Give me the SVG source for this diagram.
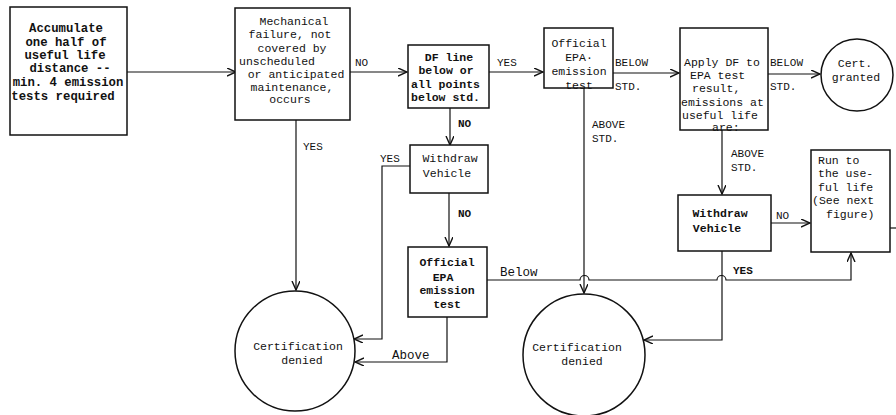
<svg xmlns="http://www.w3.org/2000/svg" width="896" height="415" viewBox="0 0 896 415">
<style>
.b{fill:#fff;stroke:#111;stroke-width:1.5}
.c{fill:none;stroke:#111;stroke-width:1.2}
text{font-family:"Liberation Mono","DejaVu Sans Mono",monospace;fill:#111;font-size:11.5px}
.m{text-anchor:middle}
.bd{font-weight:bold}
.big{font-size:12.3px;font-weight:bold}
.l{font-size:11px}
</style>
<defs>
<marker id="ah" markerWidth="10" markerHeight="10" refX="9" refY="4" orient="auto" markerUnits="userSpaceOnUse">
<path d="M0,0 L9,4 L0,8" fill="none" stroke="#111" stroke-width="1.4"/>
</marker>
</defs>

<g id="connectors">
<path class="c" d="M127,72 H236" marker-end="url(#ah)"/>
<path class="c" d="M350,72 H407" marker-end="url(#ah)"/>
<path class="c" d="M489,72 H543" marker-end="url(#ah)"/>
<path class="c" d="M613,73 H679" marker-end="url(#ah)"/>
<path class="c" d="M768,74 H820" marker-end="url(#ah)"/>
<path class="c" d="M296,120 V290" marker-end="url(#ah)"/>
<path class="c" d="M450,108 V145" marker-end="url(#ah)"/>
<path class="c" d="M410,166 H382 V339 H354" marker-end="url(#ah)"/>
<path class="c" d="M449,193 V246" marker-end="url(#ah)"/>
<path class="c" d="M447,317 V362 H355" marker-end="url(#ah)"/>
<path class="c" d="M487,280 H580 A4.5,4.5 0 0 1 589,280 H717 A4.5,4.5 0 0 1 726,280 H851 V253" marker-end="url(#ah)"/>
<path class="c" d="M584,88 V293" marker-end="url(#ah)"/>
<path class="c" d="M722,130 V194" marker-end="url(#ah)"/>
<path class="c" d="M771,223 H810" marker-end="url(#ah)"/>
<path class="c" d="M722,251 V340 H644" marker-end="url(#ah)"/>
<path class="c" d="M890,228 H896"/>
<text x="355" y="66" class="l">NO</text>
<text x="497" y="66" class="l">YES</text>
<text x="615" y="66" class="l">BELOW</text>
<text x="615" y="90" class="l">STD.</text>
<text x="770" y="66" class="l">BELOW</text>
<text x="770" y="90" class="l">STD.</text>
<text x="303" y="150" class="l">YES</text>
<text x="458" y="127" class="l bd">NO</text>
<text x="380" y="162" class="l">YES</text>
<text x="458" y="217" class="l bd">NO</text>
<text x="592" y="128" class="l">ABOVE</text>
<text x="592" y="142" class="l">STD.</text>
<text x="731" y="157" class="l">ABOVE</text>
<text x="731" y="171" class="l">STD.</text>
<text x="776" y="219" class="l">NO</text>
<text x="733" y="274" class="l bd">YES</text>
<text x="500" y="276" style="font-size:12.5px">Below</text>
<text x="392" y="359" style="font-size:12.5px">Above</text>
</g>

<g id="accumulate">
<rect class="b" x="10" y="7" width="117" height="128"/>
<text class="big m" x="66" y="32">Accumulate</text>
<text class="big m" x="66" y="46">one half of</text>
<text class="big m" x="65" y="59">useful life</text>
<text class="big m" x="70" y="72">distance --</text>
<text class="big m" x="68" y="86">min. 4 emission</text>
<text class="big m" x="63" y="100">tests required</text>
</g>

<g id="mechanical">
<rect class="b" x="235" y="8" width="115" height="112"/>
<text class="m" x="294" y="25">Mechanical</text>
<text class="m" x="290" y="38">failure, not</text>
<text class="m" x="292" y="52">covered by</text>
<text class="m" x="277" y="65">unscheduled</text>
<text class="m" x="296" y="78">or anticipated</text>
<text class="m" x="292" y="91">maintenance,</text>
<text class="m" x="290" y="103">occurs</text>
</g>

<g id="dfline">
<rect class="b" x="408" y="45" width="81" height="63"/>
<text class="m bd" x="449" y="61">DF line</text>
<text class="m bd" x="446" y="74">below or</text>
<text class="bd" x="411" y="88">all points</text>
<text class="bd" x="411" y="101">below std.</text>
</g>

<g id="epa1">
<rect class="b" x="544" y="28" width="69" height="60"/>
<text class="m" x="579" y="47">Official</text>
<text class="m" x="579" y="61">EPA·</text>
<text class="m" x="579" y="75">emission</text>
<text class="m" x="579" y="89">test</text>
</g>

<g id="applydf">
<rect class="b" x="680" y="28" width="88" height="102"/>
<text x="684" y="66">Apply DF to</text>
<text x="690" y="79">EPA test</text>
<text x="692" y="92">result,</text>
<text x="681" y="106">emissions at</text>
<text x="682" y="119">useful life</text>
<text x="712" y="131">are:</text>
</g>

<g id="certgranted">
<circle class="b" cx="857" cy="75" r="36"/>
<text class="m" x="855" y="67">Cert.</text>
<text class="m" x="856" y="81">granted</text>
</g>

<g id="withdraw1">
<rect class="b" x="410" y="145" width="78" height="48"/>
<text class="m" x="450" y="162">Withdraw</text>
<text class="m" x="447" y="177">Vehicle</text>
</g>

<g id="epa2">
<rect class="b" x="408" y="247" width="79" height="70"/>
<text class="m bd" x="447" y="266">Official</text>
<text class="m bd" x="443" y="281">EPA</text>
<text class="m bd" x="447" y="294">emission</text>
<text class="m bd" x="447" y="308">test</text>
</g>

<g id="withdraw2">
<rect class="b" x="678" y="195" width="93" height="56"/>
<text class="m bd" x="720" y="217">Withdraw</text>
<text class="m bd" x="717" y="232">Vehicle</text>
</g>

<g id="runto">
<rect class="b" x="811" y="150" width="79" height="102"/>
<text x="818" y="164">Run to</text>
<text x="818" y="177">the use-</text>
<text x="818" y="191">ful life</text>
<text x="812" y="204">(See next</text>
<text x="826" y="218">figure)</text>
</g>

<g id="denied1">
<circle class="b" cx="295" cy="351" r="60"/>
<text class="m" x="298" y="350">Certification</text>
<text class="m" x="302" y="364">denied</text>
</g>

<g id="denied2">
<circle class="b" cx="584" cy="355" r="61"/>
<text class="m" x="577" y="351">Certification</text>
<text class="m" x="582" y="365">denied</text>
</g>
</svg>
